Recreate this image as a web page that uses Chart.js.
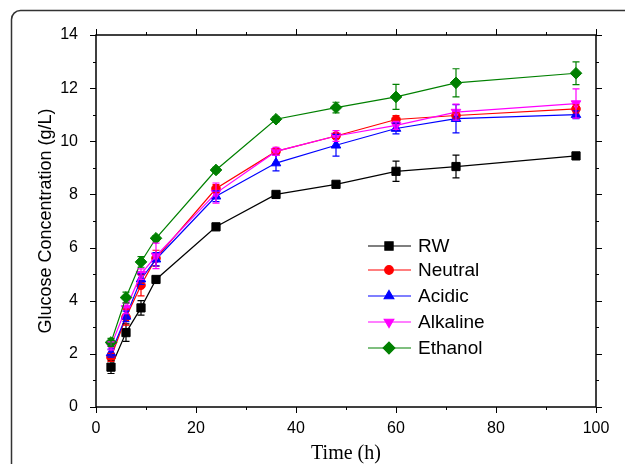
<!DOCTYPE html>
<html>
<head>
<meta charset="utf-8">
<script src="https://cdn.jsdelivr.net/npm/chart.js@4/dist/chart.umd.min.js"></script>
<style>
  html, body { margin: 0; padding: 0; background: #fff; }
  #wrap { width: 625px; height: 464px; }
</style>
</head>
<body>
<div id="wrap"><canvas id="chart" width="625" height="464"></canvas></div>
<script>
// Sampling times (h)
const times = [3, 6, 9, 12, 24, 36, 48, 60, 72, 96];

// Glucose concentration (g/L) per pretreatment
const rw       = [1.50, 2.80, 3.73, 4.80, 6.78, 8.00, 8.38, 8.87, 9.05, 9.45];
const neutral  = [1.87, 3.38, 4.58, 5.60, 8.22, 9.62, 10.20, 10.82, 10.97, 11.22];
const acidic   = [2.03, 3.41, 4.81, 5.56, 7.93, 9.18, 9.85, 10.48, 10.85, 11.00];
const alkaline = [2.30, 3.71, 5.00, 5.69, 8.05, 9.62, 10.20, 10.60, 11.10, 11.42];
const ethanol  = [2.43, 4.12, 5.46, 6.35, 8.92, 10.83, 11.27, 11.67, 12.20, 12.56];

// Error bars (± g/L)
const rwErr       = [0.24, 0.33, 0.27, 0.12, 0.08, 0.08, 0.08, 0.38, 0.43, 0.08];
const neutralErr  = [0.15, 0.30, 0.40, 0.30, 0.15, 0.10, 0.10, 0.15, 0.10, 0.15];
const acidicErr   = [0.15, 0.20, 0.20, 0.25, 0.20, 0.29, 0.41, 0.20, 0.53, 0.15];
const alkalineErr = [0.15, 0.20, 0.20, 0.48, 0.38, 0.15, 0.20, 0.15, 0.30, 0.55];
const ethanolErr  = [0.15, 0.20, 0.20, 0.10, 0.10, 0.10, 0.20, 0.47, 0.53, 0.43];

const seriesNames = ['RW', 'Neutral', 'Acidic', 'Alkaline', 'Ethanol'];
const xTickLabels = [0, 20, 40, 60, 80, 100];
const yTickLabels = [0, 2, 4, 6, 8, 10, 12, 14];

const series = [
    { name: seriesNames[0], values: rw,       errors: rwErr,       color: '#000000', style: 'rect',     radius: 5.8, rotation: 0 },
    { name: seriesNames[1], values: neutral,  errors: neutralErr,  color: '#ff0000', style: 'circle',   radius: 4.3, rotation: 0 },
    { name: seriesNames[2], values: acidic,   errors: acidicErr,   color: '#0000ff', style: 'triangle', radius: 5.5, rotation: 0 },
    { name: seriesNames[3], values: alkaline, errors: alkalineErr, color: '#ff00ff', style: 'triangle', radius: 5.5, rotation: 180 },
    { name: seriesNames[4], values: ethanol,  errors: ethanolErr,  color: '#008000', style: 'rectRot',  radius: 5.8, rotation: 0 }
];

// White background and rounded frame round the figure
const framePlugin = {
    id: 'frame',
    beforeDraw(chart) {
        const ctx = chart.ctx;
        ctx.save();
        ctx.fillStyle = '#ffffff';
        ctx.fillRect(0, 0, chart.width, chart.height);
        ctx.strokeStyle = '#333333';
        ctx.lineWidth = 1.5;
        ctx.beginPath();
        ctx.roundRect(11.5, 10.5, 700, 600, 9);
        ctx.stroke();
        ctx.restore();
    }
};

// Error bars drawn from the same scales
const errorBarPlugin = {
    id: 'errorBars',
    afterDatasetsDraw(chart) {
        const ctx = chart.ctx;
        const xs = chart.scales.x, ys = chart.scales.y;
        ctx.save();
        ctx.lineWidth = 1.2;
        series.forEach(s => {
            ctx.strokeStyle = s.color;
            times.forEach((t, j) => {
                const px = xs.getPixelForValue(t);
                const top = ys.getPixelForValue(s.values[j] + s.errors[j]);
                const bot = ys.getPixelForValue(s.values[j] - s.errors[j]);
                ctx.beginPath();
                ctx.moveTo(px, top); ctx.lineTo(px, bot);
                ctx.moveTo(px - 3.5, top); ctx.lineTo(px + 3.5, top);
                ctx.moveTo(px - 3.5, bot); ctx.lineTo(px + 3.5, bot);
                ctx.stroke();
            });
        });
        ctx.restore();
    }
};

// Axis box with tick marks on all four sides
const axesPlugin = {
    id: 'axesBox',
    afterDraw(chart) {
        const ctx = chart.ctx;
        const a = chart.chartArea;
        const xs = chart.scales.x, ys = chart.scales.y;
        ctx.save();
        ctx.strokeStyle = '#000';
        ctx.lineWidth = 1.5;
        ctx.strokeRect(a.left, a.top, a.right - a.left, a.bottom - a.top);
        ctx.lineWidth = 1;
        ctx.beginPath();
        for (let v = 0; v <= 100; v += 10) {
            const px = Math.round(xs.getPixelForValue(v)) + 0.5;
            const len = v % 20 === 0 ? 6 : 3;
            ctx.moveTo(px, a.bottom); ctx.lineTo(px, a.bottom + len);
            ctx.moveTo(px, a.top); ctx.lineTo(px, a.top - len);
        }
        for (let v = 0; v <= 14; v += 1) {
            const py = Math.round(ys.getPixelForValue(v)) + 0.5;
            const len = v % 2 === 0 ? 6 : 3;
            ctx.moveTo(a.left, py); ctx.lineTo(a.left - len, py);
            ctx.moveTo(a.right, py); ctx.lineTo(a.right + len, py);
        }
        ctx.stroke();

        // legend inside the plot
        const lx0 = 368, lx1 = 411, mx = 389, tx = 418;
        const rows = [246, 270, 296, 322, 348];
        ctx.font = '19px "Liberation Sans", Arial, sans-serif';
        ctx.textBaseline = 'middle';
        ctx.textAlign = 'left';
        series.forEach((s, i) => {
            const y = rows[i];
            ctx.strokeStyle = s.color;
            ctx.lineWidth = 1.2;
            ctx.beginPath();
            ctx.moveTo(lx0, y); ctx.lineTo(lx1, y);
            ctx.stroke();
            ctx.fillStyle = s.color;
            Chart.helpers.drawPoint(ctx, {
                pointStyle: s.style, radius: s.radius, rotation: s.rotation, borderWidth: 1
            }, mx, y);
            ctx.fillStyle = '#000';
            ctx.fillText(s.name, tx, y + 1);
        });
        ctx.restore();
    }
};

const datasets = series.map((s, i) => ({
    label: s.name,
    data: times.map((t, j) => ({ x: t, y: s.values[j] })),
    borderColor: s.color,
    backgroundColor: s.color,
    borderWidth: 1.2,
    pointStyle: s.style,
    pointRotation: s.rotation,
    pointRadius: s.radius,
    pointBorderWidth: 1,
    pointBorderColor: s.color,
    pointBackgroundColor: s.color,
    tension: 0,
    order: series.length - i
}));

new Chart(document.getElementById('chart').getContext('2d'), {
    type: 'line',
    data: { datasets: datasets },
    options: {
        responsive: false,
        animation: false,
        layout: { padding: { left: 0, top: 35, right: 29, bottom: 0 } },
        plugins: {
            legend: { display: false },
            tooltip: { enabled: false }
        },
        scales: {
            x: {
                type: 'linear',
                min: 0,
                max: 100,
                afterFit: scale => { scale.height = 57; },
                afterBuildTicks: scale => { scale.ticks = xTickLabels.map(v => ({ value: v })); },
                grid: { display: false },
                border: { display: false },
                ticks: {
                    padding: 4,
                    color: '#000',
                    font: { family: '"Liberation Sans", Arial, sans-serif', size: 16 },
                    maxRotation: 0
                },
                title: {
                    display: true,
                    text: 'Time (h)',
                    color: '#000',
                    padding: { top: 0, bottom: 0 },
                    font: { family: '"Liberation Serif", "Times New Roman", serif', size: 20, lineHeight: 1 }
                }
            },
            y: {
                min: 0,
                max: 14,
                afterFit: scale => { scale.width = 96; },
                afterBuildTicks: scale => { scale.ticks = yTickLabels.map(v => ({ value: v })); },
                grid: { display: false },
                border: { display: false },
                ticks: {
                    padding: 10,
                    color: '#000',
                    font: { family: '"Liberation Sans", Arial, sans-serif', size: 16 }
                },
                title: {
                    display: true,
                    text: 'Glucose Concentration (g/L)',
                    color: '#000',
                    padding: { top: 35, bottom: 0 },
                    font: { family: '"Liberation Sans", Arial, sans-serif', size: 18 }
                }
            }
        }
    },
    plugins: [framePlugin, errorBarPlugin, axesPlugin]
});
</script>
</body>
</html>
